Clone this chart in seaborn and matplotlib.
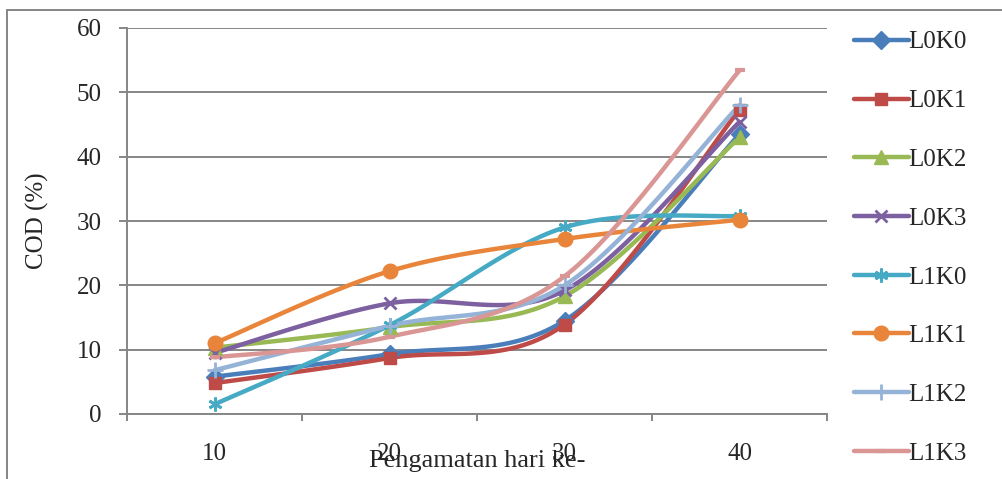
import numpy as np
import pandas as pd
import matplotlib
matplotlib.use("Agg")
import matplotlib.pyplot as plt
from matplotlib.lines import Line2D
import seaborn as sns

days = ["10", "20", "30", "40"]
L0K0 = [5.8, 9.3, 14.5, 43.5]
L0K1 = [4.8, 8.7, 13.9, 47.3]
L0K2 = [10.3, 13.5, 18.3, 43.0]
L0K3 = [9.5, 17.2, 19.2, 45.4]
L1K0 = [1.5, 13.8, 29.0, 30.8]
L1K1 = [11.0, 22.2, 27.2, 30.2]
L1K2 = [6.8, 13.7, 20.0, 48.0]
L1K3 = [8.8, 12.0, 21.4, 53.4]

series = {"L0K0": L0K0, "L0K1": L0K1, "L0K2": L0K2, "L0K3": L0K3,
          "L1K0": L1K0, "L1K1": L1K1, "L1K2": L1K2, "L1K3": L1K3}

# line colour, marker, marker size, marker edge width
styles = {
    "L0K0": ("#4A7EBB", "D", 9.5, 1.0),
    "L0K1": ("#BE4B48", "s", 9, 1.0),
    "L0K2": ("#98B954", "^", 10, 1.0),
    "L0K3": ("#7D60A0", "x", 9, 2.0),
    "L1K0": ("#46AAC5", (6, 2, 0), 10, 2.0),
    "L1K1": ("#E8853A", "o", 10.5, 1.0),
    "L1K2": ("#95B3D7", "+", 11, 2.0),
    "L1K3": ("#D99694", "_", 7, 3.0),
}


def smooth(ys, n=40):
    """Excel-like smoothed line: cubic bezier between points (Catmull-Rom, tension 1/6)"""
    pts = np.column_stack([np.arange(len(ys)), ys]).astype(float)
    out = []
    t = np.linspace(0, 1, n)[:, None]
    for i in range(len(pts) - 1):
        p0 = pts[max(i - 1, 0)]
        p1 = pts[i]
        p2 = pts[i + 1]
        p3 = pts[min(i + 2, len(pts) - 1)]
        c1 = p1 + (p2 - p0) / 6
        c2 = p2 - (p3 - p1) / 6
        seg = (1 - t) ** 3 * p1 + 3 * (1 - t) ** 2 * t * c1 + 3 * (1 - t) * t ** 2 * c2 + t ** 3 * p2
        out.append(seg if i == 0 else seg[1:])
    seg = np.vstack(out)
    return seg[:, 0], seg[:, 1]


sns.set_theme(style="white")
plt.rcParams["font.family"] = ["Liberation Serif", "DejaVu Serif"]

fig = plt.figure(figsize=(10.03, 4.79), dpi=100)
ax = fig.add_axes([127 / 1003, 65 / 479, 700 / 1003, 386 / 479])

xpos = np.arange(len(days))
handles = []
for name, vals in series.items():
    color, mk, ms, mew = styles[name]
    sx, sy = smooth(vals)
    curve = pd.DataFrame({"x": sx, "y": sy})
    sns.lineplot(data=curve, x="x", y="y", ax=ax, color=color, lw=3.2,
                 sort=False, estimator=None, solid_capstyle="round")
    ax.plot(xpos, vals, ls="none", marker=mk, ms=ms, mew=mew,
            color=color, mec=color, zorder=3)
    handles.append(Line2D([], [], color=color, lw=3.2, marker=mk, ms=ms,
                          mew=mew, mec=color, solid_capstyle="round"))

ax.set_xlim(-0.5, 3.5)
ax.set_ylim(0, 60)
ax.set_yticks(range(0, 61, 10))
ax.set_xticks(xpos)
ax.set_xticklabels(days)
ax.set_xticks(np.arange(-0.5, 3.6, 1), minor=True)
ax.yaxis.grid(True, color="#868686", lw=1.4)
ax.set_axisbelow(True)
for s in ["top", "right"]:
    ax.spines[s].set_visible(False)
for s in ["left", "bottom"]:
    ax.spines[s].set_color("#868686")
    ax.spines[s].set_linewidth(1.4)
ax.tick_params(axis="x", which="major", length=0, pad=21, labelsize=18)
ax.tick_params(axis="x", which="minor", length=5, width=1.4, color="#868686", direction="out", bottom=True)
ax.tick_params(axis="y", length=6, width=1.4, color="#868686", direction="out", left=True, pad=12, labelsize=18)

ax.set_xlabel("Pengamatan hari ke-", fontsize=19)
ax.xaxis.set_label_coords(0.5, -0.092)
ax.set_ylabel("COD (%)", fontsize=18)
ax.yaxis.set_label_coords(-0.112, 0.5)

fig.legend(handles, list(series.keys()), loc="upper left",
           bbox_to_anchor=(844 / 1003, 1 - 21 / 479), frameon=False,
           fontsize=18, handlelength=2.2, handletextpad=-0.05,
           labelspacing=1.45, borderaxespad=0)

# outer chart border
fig.add_artist(Line2D([7 / 1003, 7 / 1003], [0, 1 - 10 / 479], color="#868686", lw=1.4))
fig.add_artist(Line2D([7 / 1003, 1], [1 - 10 / 479, 1 - 10 / 479], color="#868686", lw=1.4))

fig.savefig("out.png", dpi=100)
